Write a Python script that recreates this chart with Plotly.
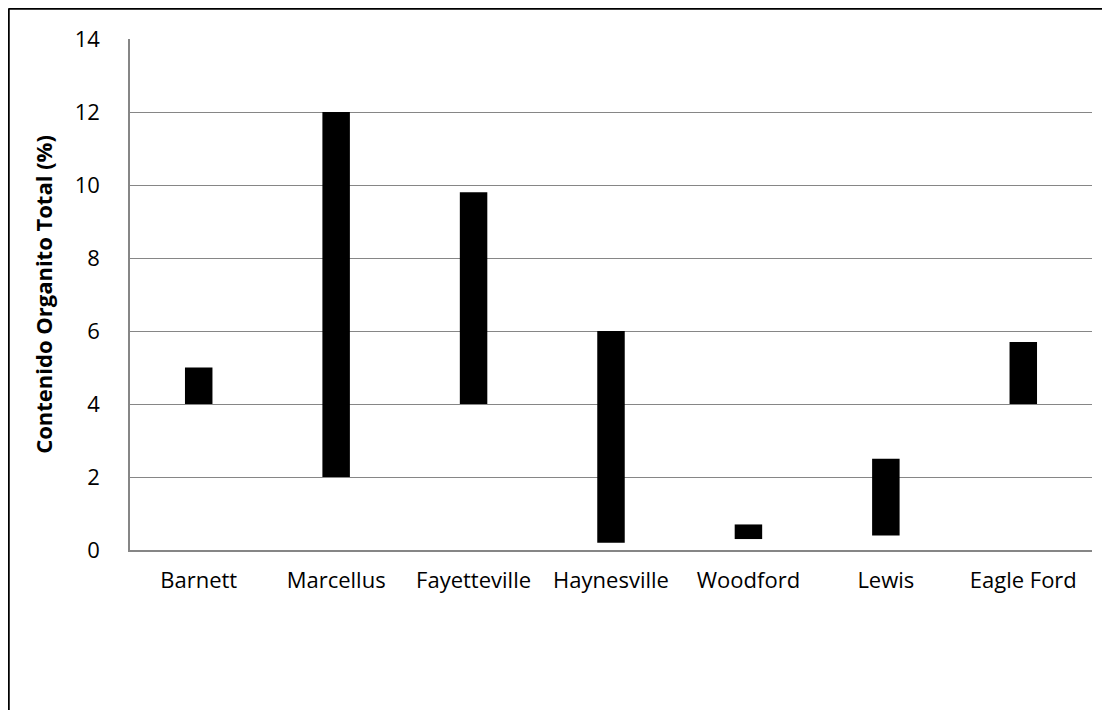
import plotly.graph_objects as go

categories = ["Barnett", "Marcellus", "Fayetteville", "Haynesville", "Woodford", "Lewis", "Eagle Ford"]
toc_low = [4.0, 2.0, 4.0, 0.2, 0.3, 0.4, 4.0]
toc_high = [5.0, 12.0, 9.8, 6.0, 0.7, 2.5, 5.7]
y_ticks = [0, 2, 4, 6, 8, 10, 12, 14]

spans = [h - l for h, l in zip(toc_high, toc_low)]

fig = go.Figure()
fig.add_trace(go.Bar(
    x=categories, y=spans, base=toc_low,
    marker=dict(color="black", line=dict(width=0)),
    width=0.2, showlegend=False, hoverinfo="skip",
))

font_family = "'Open Sans', sans-serif"
OFF = 8  # page body offset
W, H = 1110, 710
L, R, T, B = 130 - OFF, W - 1092 + OFF, 39 - OFF, H - 550 + OFF
pw, ph = W - L - R, H - T - B

fig.update_layout(
    width=W, height=H,
    margin=dict(l=L, r=R, t=T, b=B),
    paper_bgcolor="white", plot_bgcolor="white",
    font=dict(family=font_family, size=22, color="black"),
    xaxis=dict(
        showgrid=False, showline=True, linecolor="#868686", linewidth=1.5,
        ticks="", tickfont=dict(size=22), ticklabelstandoff=10,
    ),
    yaxis=dict(
        range=[0, 14], tickvals=y_ticks, showgrid=True, gridcolor="#868686", gridwidth=1.2,
        showline=True, linecolor="#868686", linewidth=1.5, ticks="", zeroline=False,
        tickfont=dict(size=22), ticklabelstandoff=24,
        title=dict(text="<b>Contenido Organito Total (%)</b>", font=dict(size=22), standoff=16),
    ),
    bargap=0.8,
)

# outer border lines (top and left)
x_left = (0.5 - L) / pw
y_top = (ph + T - 0.5) / ph
fig.add_shape(type="line", xref="paper", yref="paper",
              x0=x_left, x1=(W - L) / pw, y0=y_top, y1=y_top,
              line=dict(color="black", width=2.5))
fig.add_shape(type="line", xref="paper", yref="paper",
              x0=x_left, x1=x_left, y0=y_top, y1=-B / ph,
              line=dict(color="black", width=2.5))

fig.write_html("out.html")
